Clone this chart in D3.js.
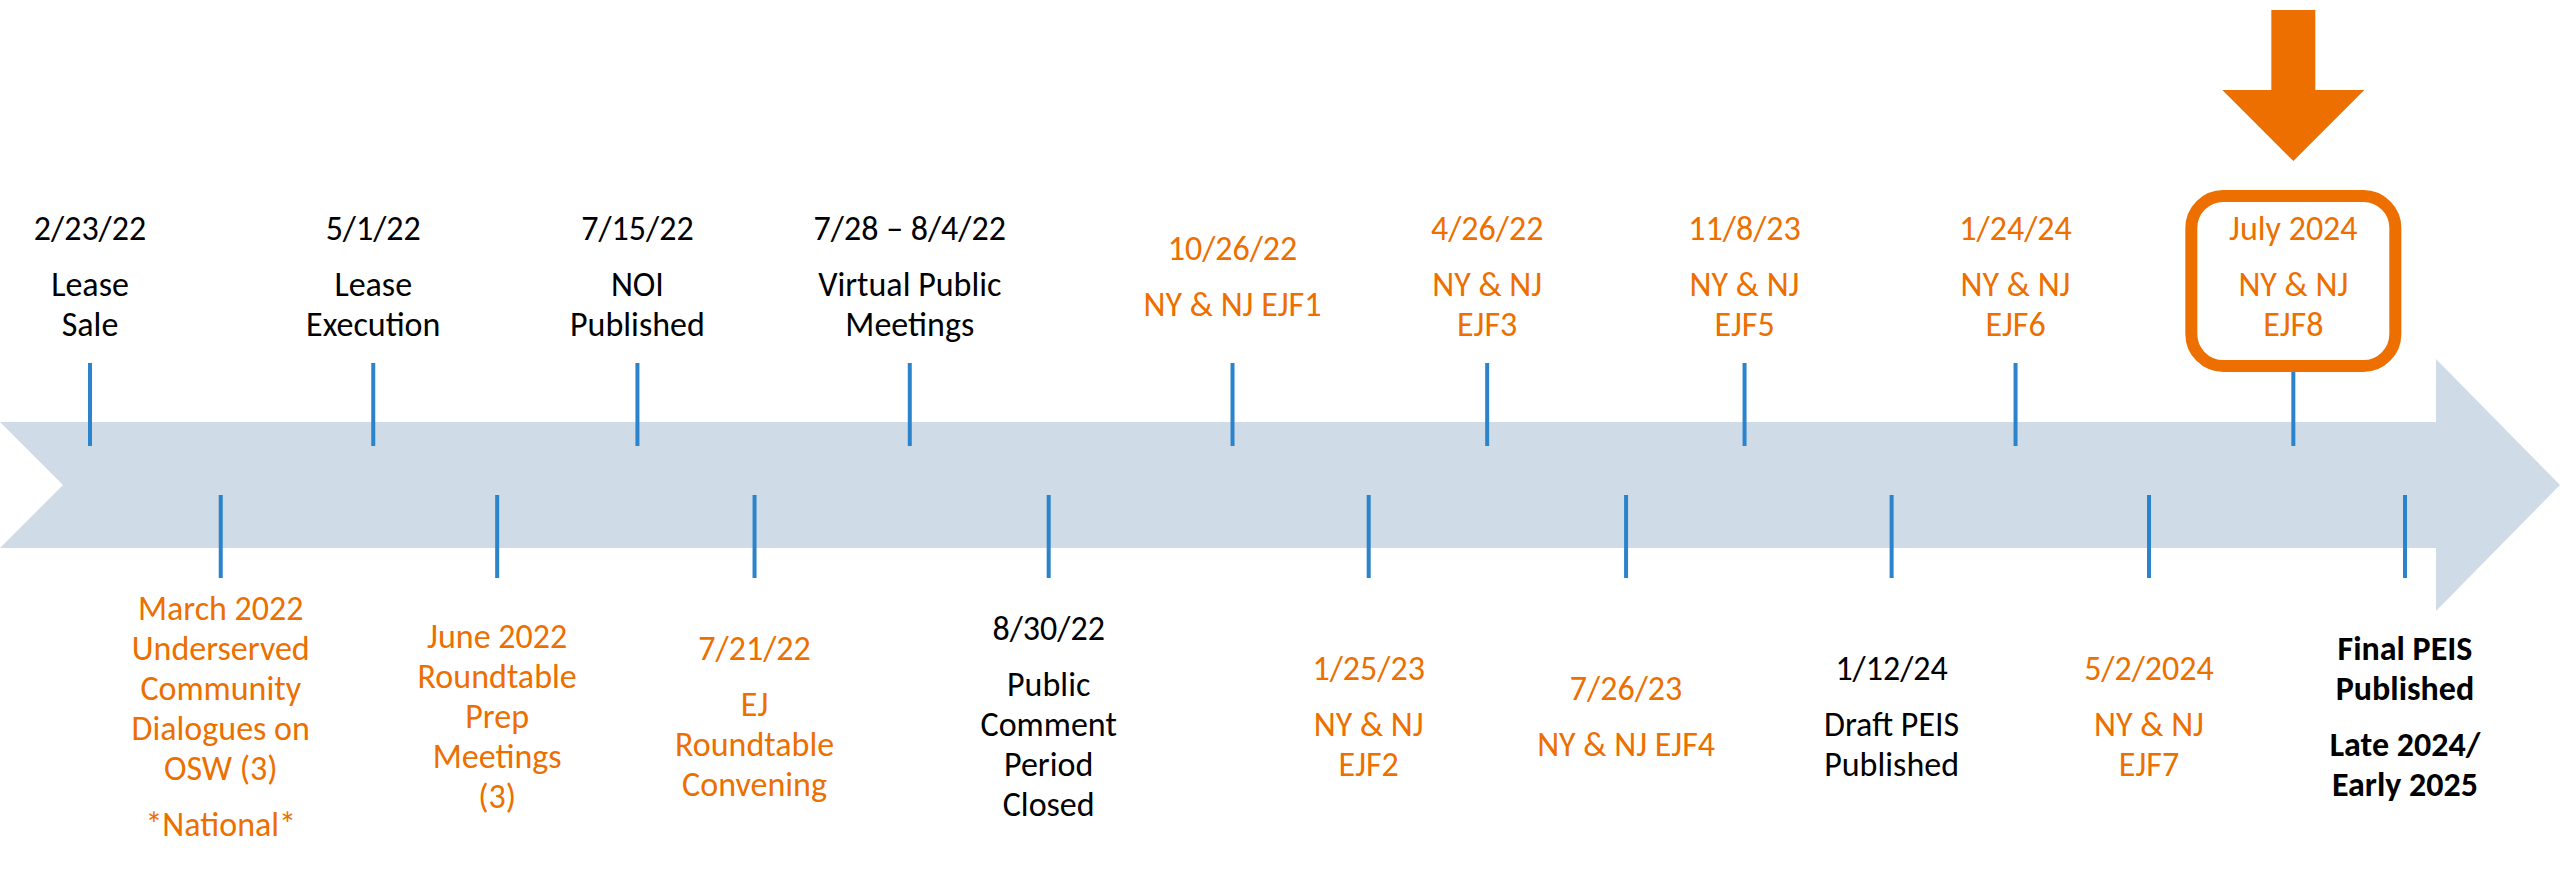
<!DOCTYPE html>
<head>
  <title>Timeline</title>
  <meta charset="utf-8">
<style>
body, html {
    margin: 0;
    padding: 0;
    background: #fff;
}
#chart text {
    font-family: Carlito, Calibri, Lato, sans-serif;
    font-size: 34px;
    text-anchor: middle;
}
.tick-line {
    stroke: #2b83cc;
    stroke-width: 4px;
}
.band {
    fill: #cfdce7;
}
</style>
</head>
<body>
    <div id="chart"></div>
</body>
<script src="https://d3js.org/d3.v7.min.js"></script>
<script type="text/javascript">

// events, left to right along the arrow
var labels = [
  [["2/23/22"], ["Lease", "Sale"]],
  [["March 2022", "Underserved", "Community", "Dialogues on", "OSW (3)"], ["*National*"]],
  [["5/1/22"], ["Lease", "Execution"]],
  [["June 2022", "Roundtable", "Prep", "Meetings", "(3)"]],
  [["7/15/22"], ["NOI", "Published"]],
  [["7/21/22"], ["EJ", "Roundtable", "Convening"]],
  [["7/28 \u2013 8/4/22"], ["Virtual Public", "Meetings"]],
  [["8/30/22"], ["Public", "Comment", "Period", "Closed"]],
  [["10/26/22"], ["NY & NJ EJF1"]],
  [["1/25/23"], ["NY & NJ", "EJF2"]],
  [["4/26/22"], ["NY & NJ", "EJF3"]],
  [["7/26/23"], ["NY & NJ EJF4"]],
  [["11/8/23"], ["NY & NJ", "EJF5"]],
  [["1/12/24"], ["Draft PEIS", "Published"]],
  [["1/24/24"], ["NY & NJ", "EJF6"]],
  [["5/2/2024"], ["NY & NJ", "EJF7"]],
  [["July 2024"], ["NY & NJ", "EJF8"]],
  [["Final PEIS", "Published"], ["Late 2024/", "Early 2025"]]
];
var sides = ["top", "bottom", "top", "bottom", "top", "bottom", "top", "bottom", "top",
             "bottom", "top", "bottom", "top", "bottom", "top", "bottom", "top", "bottom"];
var kinds = ["milestone", "ej", "milestone", "ej", "milestone", "ej", "milestone", "milestone", "ej",
             "ej", "ej", "ej", "ej", "milestone", "ej", "ej", "ej", "final"];
// stage along the timeline
var stages = [0, 0.96, 2.08, 2.99, 4.02, 4.88, 6.02, 7.04, 8.39,
              9.39, 10.26, 11.28, 12.15, 13.23, 14.14, 15.12, 16.18, 17];
var highlighted = 16;

var width = 2560, height = 872;

var svg = d3.select("#chart")
    .append("svg")
    .attr("width", width)
    .attr("height", height);

var x = d3.scaleLinear().domain([0, 17]).range([90, 2405]);
var color = d3.scaleOrdinal()
    .domain(["milestone", "ej", "final"])
    .range(["#000000", "#ec6f00", "#000000"]);

// the big arrow
var bandTop = 422, bandBottom = 548, bandMid = 485;
var headX = 2436;
svg.append("path")
    .attr("class", "band")
    .attr("d", d3.line()([
        [0, bandTop], [headX, bandTop], [headX, 359], [width, bandMid],
        [headX, 611], [headX, bandBottom], [0, bandBottom], [63, bandMid]
    ]));

var events = labels.map(function(l, i) {
    return {paras: l, side: sides[i], kind: kinds[i], stage: stages[i], i: i};
});

// ticks
svg.selectAll(".tick-line")
    .data(events)
  .enter().append("line")
    .attr("class", "tick-line")
    .attr("x1", function(d) { return x(d.stage); })
    .attr("x2", function(d) { return x(d.stage); })
    .attr("y1", function(d) { return d.side == "top" ? 363 : 495; })
    .attr("y2", function(d) { return d.side == "top" ? 446 : 578; });

// labels, centred vertically on their side of the band
var capH = 23, lineGap = 40, paraGap = 56;
var topCenter = 276, bottomCenter = 716;

events.forEach(function(d) {
    var rows = [];
    var b = 0;
    d.paras.forEach(function(p, pi) {
        p.forEach(function(line, li) {
            if (rows.length > 0) b += (li == 0 ? paraGap : lineGap);
            rows.push({text: line, y: b});
        });
    });
    var h = b + capH;
    var c = d.side == "top" ? topCenter : bottomCenter;
    var first = c - h / 2 + capH;
    svg.append("g")
        .selectAll("text")
        .data(rows)
      .enter().append("text")
        .attr("x", x(d.stage))
        .attr("y", function(r) { return first + r.y; })
        .style("fill", color(d.kind))
        .style("font-weight", d.kind == "final" ? "bold" : "normal")
        .text(function(r) { return r.text; });
});

// highlight box + pointer arrow for the current event
var hx = x(stages[highlighted]);
svg.append("rect")
    .attr("x", hx - 102)
    .attr("y", 196)
    .attr("width", 204)
    .attr("height", 170)
    .attr("rx", 32)
    .style("fill", "none")
    .style("stroke", "#ec6f00")
    .style("stroke-width", 12);

svg.append("path")
    .attr("d", d3.line()([
        [hx - 22, 10], [hx + 22, 10], [hx + 22, 90], [hx + 71, 90],
        [hx, 161], [hx - 71, 90], [hx - 22, 90]
    ]))
    .style("fill", "#ec6f00");

</script>
